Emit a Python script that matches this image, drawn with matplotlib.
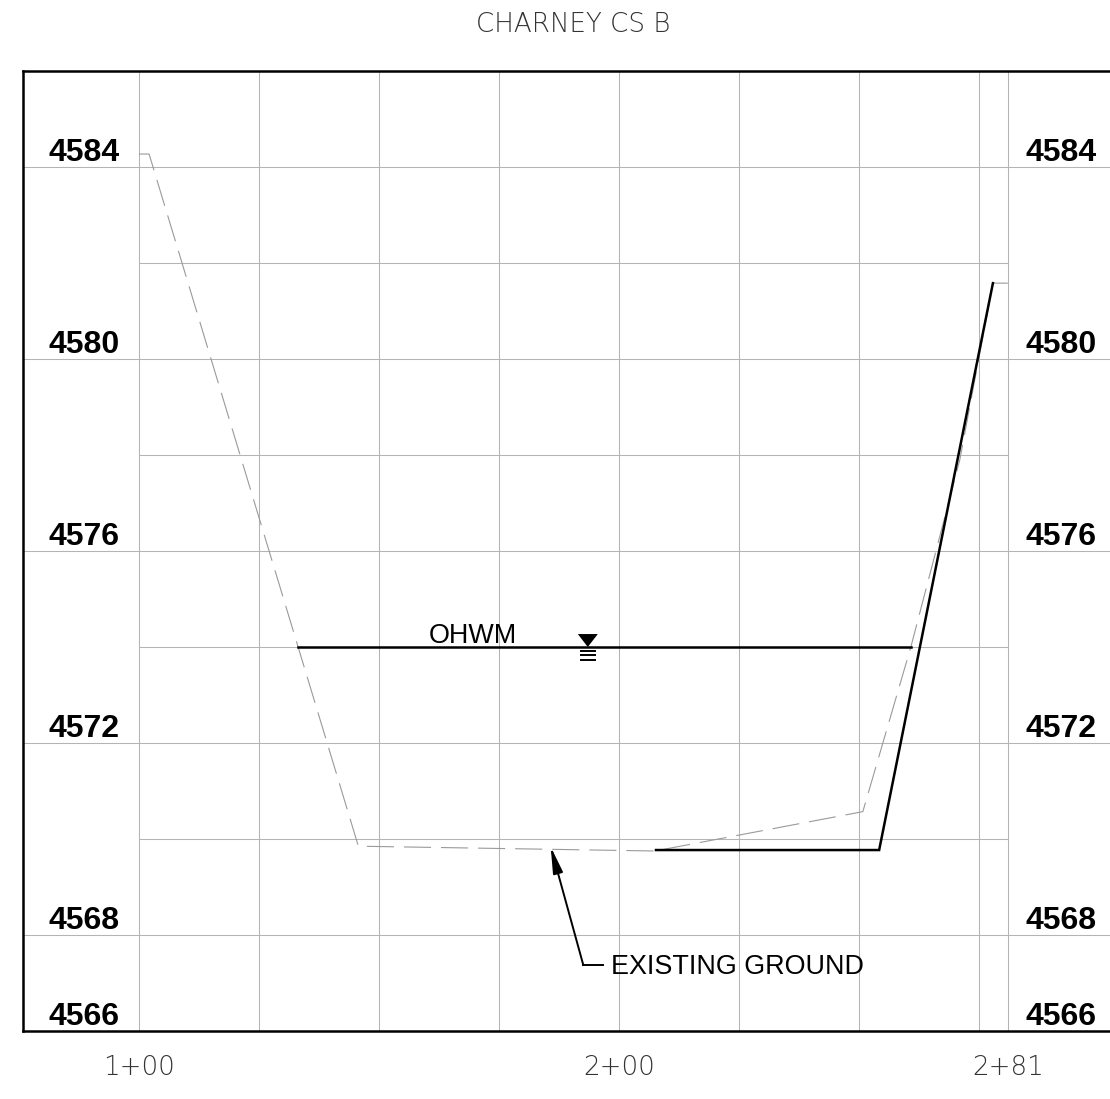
import numpy as np
import matplotlib
matplotlib.use("Agg")
import matplotlib.pyplot as plt

# cross section data (station in ft, elevation in ft)
eg_sta = [100.0, 102.1, 145.7, 207.5, 250.8, 260.8, 271.0, 277.9, 281.0]
eg_elev = [4584.27, 4584.27, 4569.85, 4569.75, 4570.57, 4574.0, 4577.9, 4581.58, 4581.58]

prop_sta = [207.7, 254.2, 277.9]
prop_elev = [4569.77, 4569.77, 4581.58]

ohwm_sta = [133.1, 260.8]
ohwm_elev = 4574.0

sta_grid = [100, 125, 150, 175, 200, 225, 250, 275, 281]
elev_labeled = [4566, 4568, 4572, 4576, 4580, 4584]
elev_minor = [4570, 4574, 4578, 4582]
sta_ticks = [100, 200, 281]
sta_labels = ["1+00", "2+00", "2+81"]

title = "CHARNEY CS B"

# figure / axes layout (pixels)
W, H = 1110, 1099
fig = plt.figure(figsize=(W / 100, H / 100), dpi=100)
ax = fig.add_axes([23 / W, (H - 1031) / H, (W - 23) / W, (1031 - 71) / H])
ax.set_xlim(100 - 116 / 4.8, 100 + 971 / 4.8)
ax.set_ylim(4566, 4586)

plt.rcParams["lines.scale_dashes"] = False
grid_c = "#b4b4b4"
lw_grid = 0.75

# grid
for s in sta_grid:
    ax.axvline(s, color=grid_c, lw=lw_grid, zorder=1)
for e in elev_labeled[1:]:
    ax.axhline(e, color=grid_c, lw=lw_grid, zorder=1)
ax.hlines(elev_minor, sta_grid[0], sta_grid[-1], color=grid_c, lw=lw_grid, zorder=1)

# existing ground
ax.plot(eg_sta, eg_elev, color="#9a9a9a", lw=0.8, dashes=(19.5, 7.2), zorder=2)
# proposed
ax.plot(prop_sta, prop_elev, color="black", lw=1.8, zorder=3,
        solid_joinstyle="miter")
# OHWM
ax.plot(ohwm_sta, [ohwm_elev] * 2, color="black", lw=1.8, zorder=3)
ax.text(169.6, ohwm_elev + 0.08, "OHWM", fontsize=19.4, family="Liberation Sans",
        ha="center", va="baseline")

# water surface symbol
sym_x = 193.5
ax.fill([sym_x - 2.08, sym_x + 2.08, sym_x], [ohwm_elev + 0.27, ohwm_elev + 0.27, ohwm_elev],
        color="black", lw=0, zorder=4)
for dy in [0.08, 0.17, 0.28]:
    ax.plot([sym_x - 1.45, sym_x + 1.45], [ohwm_elev - dy] * 2, color="black", lw=1.4, zorder=4)

# existing ground leader
tip = (185.77, 4569.84)
corner = (192.56, 4567.375)
ax.plot([corner[0], 196.6], [corner[1], corner[1]], color="black", lw=1.4, zorder=4)
ax.annotate("", xy=tip, xytext=corner,
            arrowprops=dict(arrowstyle="-|>,head_length=0.8,head_width=0.15",
                            mutation_scale=20, color="black", lw=1.4,
                            shrinkA=0, shrinkB=0), zorder=4)
ax.text(198.27, 4567.19, "EXISTING GROUND", fontsize=19.4, family="Liberation Sans",
        ha="left", va="baseline")

# elevation labels both sides
for e in elev_labeled:
    ax.annotate(str(e), xy=(sta_grid[0], e), xytext=(-19 * 0.72, 6 * 0.72),
                textcoords="offset points", ha="right", va="baseline",
                fontsize=23, fontweight="bold", family="Liberation Sans")
    ax.annotate(str(e), xy=(sta_grid[-1], e), xytext=(18 * 0.72, 6 * 0.72),
                textcoords="offset points", ha="left", va="baseline",
                fontsize=23, fontweight="bold", family="Liberation Sans")

# station labels
ax.set_xticks(sta_ticks)
ax.set_xticklabels(sta_labels, fontsize=18.8, family="DejaVu Sans", fontweight="light",
                   color="#333333")
ax.tick_params(axis="x", length=0, pad=17)
ax.set_yticks([])

for side in ["left", "top", "bottom"]:
    ax.spines[side].set_linewidth(1.8)
ax.spines["right"].set_visible(False)

fig.text(573 / W, 1 - 24 / H, title, fontsize=18.8, family="DejaVu Sans", fontweight="light",
         ha="center", va="center", color="#333333")

fig.savefig("out.png", dpi=100)
